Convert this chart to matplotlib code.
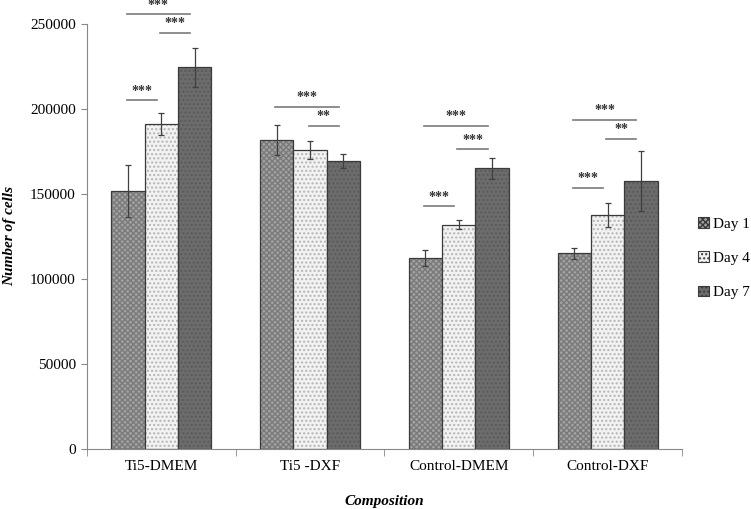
import numpy as np
import matplotlib.pyplot as plt
from matplotlib.patches import Patch

plt.rcParams['font.family'] = ['Liberation Serif', 'DejaVu Serif']

categories = ['Ti5-DMEM', 'Ti5 -DXF', 'Control-DMEM', 'Control-DXF']
days = ['Day 1', 'Day 4', 'Day 7']
means = {
    'Day 1': [151800, 181600, 112200, 115100],
    'Day 4': [191200, 175900, 131900, 137600],
    'Day 7': [224500, 169400, 165100, 157500],
}
errors = {
    'Day 1': [15500, 8900, 4700, 3300],
    'Day 4': [6600, 5100, 2600, 7300],
    'Day 7': [11600, 4100, 6300, 17600],
}
# significance brackets: (group, from day idx, to day idx, height, label)
sig = [
    (0, 0, 2, 255700, '***'), (0, 1, 2, 244700, '***'), (0, 0, 1, 205100, '***'),
    (1, 0, 2, 201200, '***'), (1, 1, 2, 190200, '**'),
    (2, 0, 2, 190200, '***'), (2, 1, 2, 176300, '***'), (2, 0, 1, 142700, '***'),
    (3, 0, 2, 193500, '***'), (3, 1, 2, 182500, '**'), (3, 0, 1, 153800, '***'),
]

faces = ['#a2a2a2', '#f2f2f2', '#6c6c6c']
hatch_cols = ['#7a7a7a', '#b4b4b4', '#5a5a5a']
hatches = ['xxxxxx', '....', '....']

fig = plt.figure(figsize=(7.51, 5.09), dpi=100)
ax = fig.add_axes([0.1158, 0.1179, 0.7922, 0.8350])

x = np.arange(len(categories))
w = 0.224
for i, d in enumerate(days):
    pos = x + (i - 1) * w
    ax.bar(pos, means[d], w, color=faces[i], hatch=hatches[i],
           edgecolor=hatch_cols[i], linewidth=0)
    ax.bar(pos, means[d], w, fill=False, edgecolor='#3a3a3a', linewidth=0.9)
    ax.errorbar(pos, means[d], yerr=errors[d], fmt='none', ecolor='#404040',
                elinewidth=0.9, capsize=2.5, capthick=0.9)

for g, a, b, h, lab in sig:
    x0 = g + (a - 1) * w - 0.01
    x1 = g + (b - 1) * w - 0.03
    ax.plot([x0, x1], [h, h], color='#7a7a7a', lw=1.2, clip_on=False)
    ax.text((x0 + x1) / 2, h + 1500, lab, ha='center', va='bottom',
            fontsize=10, fontweight='bold', color='#333333', clip_on=False)

ax.set_xlim(-0.5, 3.5)
ax.set_ylim(0, 250000)
ax.set_yticks(np.arange(0, 250001, 50000))
ax.set_yticklabels([str(v) for v in range(0, 250001, 50000)], fontsize=11)
ax.set_xticks(x)
ax.set_xticklabels(categories, fontsize=11)
ax.set_xticks(np.arange(-0.5, 4, 1), minor=True)
ax.tick_params(axis='x', which='major', length=0, pad=8)
ax.tick_params(axis='x', which='minor', length=5, color='#888888')
ax.tick_params(axis='y', length=4, color='#888888', pad=4)
for s in ['top', 'right']:
    ax.spines[s].set_visible(False)
for s in ['left', 'bottom']:
    ax.spines[s].set_color('#888888')

ax.set_ylabel('Number of cells', fontsize=11, fontweight='bold', style='italic', labelpad=10)
ax.set_xlabel('Composition', fontsize=11, fontweight='bold', style='italic', labelpad=16)

handles = [Patch(facecolor=faces[i], hatch=hatches[i], edgecolor='#3a3a3a', linewidth=0.8)
           for i in range(3)]
fig.legend(handles, days, loc='center left', bbox_to_anchor=(0.93, 0.493), frameon=False,
           fontsize=11, handlelength=0.7, handleheight=0.7, handletextpad=0.25,
           labelspacing=1.35, borderaxespad=0, borderpad=0)

fig.savefig('out.png', dpi=100)
